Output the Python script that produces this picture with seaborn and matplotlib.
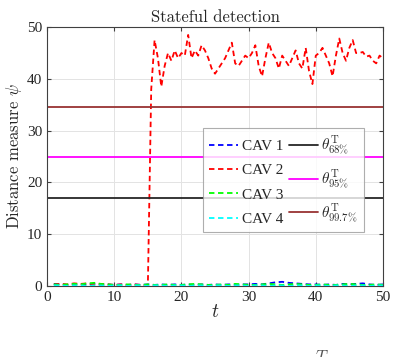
import numpy as np
import pandas as pd
import seaborn as sns
import matplotlib.pyplot as plt

# time grid for the small CAVs (step 1) and for CAV 2 after the attack (step 0.5)
t_base = list(range(1, 51))
cav1 = [0.4, 0.3, 0.2, 0.3, 0.2, 0.3, 0.4, 0.2, 0.3, 0.2,
        0.3, 0.2, 0.3, 0.2, 0.3, 0.2, 0.3, 0.2, 0.3, 0.2,
        0.3, 0.2, 0.3, 0.2, 0.3, 0.2, 0.3, 0.2, 0.3, 0.3,
        0.4, 0.3, 0.5, 0.7, 0.8, 0.6, 0.5, 0.4, 0.3, 0.3,
        0.2, 0.3, 0.2, 0.4, 0.3, 0.4, 0.5, 0.3, 0.2, 0.3]
cav3 = [0.3, 0.2, 0.3, 0.4, 0.3, 0.5, 0.6, 0.4, 0.3, 0.2,
        0.2, 0.3, 0.2, 0.2, 0.3, 0.2, 0.2, 0.3, 0.2, 0.2,
        0.3, 0.4, 0.3, 0.2, 0.2, 0.3, 0.2, 0.4, 0.3, 0.2,
        0.2, 0.3, 0.4, 0.3, 0.2, 0.3, 0.4, 0.3, 0.2, 0.2,
        0.3, 0.2, 0.2, 0.3, 0.4, 0.3, 0.2, 0.2, 0.3, 0.2]
cav4 = [0.1, 0.1, 0.0, 0.1, 0.1, 0.0, 0.1, 0.1, 0.0, 0.1,
        0.1, 0.0, 0.1, 0.1, 0.0, 0.1, 0.1, 0.0, 0.1, 0.1,
        0.0, 0.1, 0.1, 0.0, 0.1, 0.1, 0.0, 0.1, 0.1, 0.0,
        0.1, 0.1, 0.0, 0.1, 0.1, 0.0, 0.1, 0.1, 0.0, 0.1,
        0.1, 0.0, 0.1, 0.1, 0.0, 0.1, 0.1, 0.0, 0.1, 0.1]
t_cav2 = [1, 2, 3, 4, 5, 6, 7, 8, 9, 10, 11, 12, 13, 14, 15,
          15.5, 16, 16.5, 17, 17.5, 18, 18.5, 19, 19.5, 20,
          20.5, 21, 21.5, 22, 22.5, 23, 23.5, 24, 24.5, 25,
          25.5, 26, 26.5, 27, 27.5, 28, 28.5, 29, 29.5, 30,
          30.5, 31, 31.5, 32, 32.5, 33, 33.5, 34, 34.5, 35,
          35.5, 36, 36.5, 37, 37.5, 38, 38.5, 39, 39.5, 40,
          40.5, 41, 41.5, 42, 42.5, 43, 43.5, 44, 44.5, 45,
          45.5, 46, 46.5, 47, 47.5, 48, 48.5, 49, 49.5, 50]
cav2 = [0.3, 0.4, 0.3, 0.5, 0.4, 0.5, 0.3, 0.4, 0.3, 0.2, 0.3, 0.2, 0.3, 0.2, 0.1,
        38.0, 47.5, 44.0, 38.5, 42.5, 45.0, 43.5, 45.5, 44.0, 45.0,
        44.5, 48.5, 44.0, 45.5, 44.5, 46.5, 45.5, 44.0, 42.0, 41.0,
        42.0, 43.0, 44.0, 45.5, 47.0, 43.0, 42.5, 43.5, 44.5, 44.0,
        45.0, 46.5, 42.5, 40.5, 44.0, 47.0, 45.0, 44.0, 42.0, 44.5,
        43.5, 42.5, 44.0, 45.5, 43.0, 42.0, 46.0, 41.5, 39.0, 44.5,
        45.0, 46.0, 44.5, 43.0, 40.5, 44.5, 47.8, 45.0, 43.5, 46.0,
        47.5, 45.0, 45.0, 45.2, 44.3, 44.5, 43.5, 43.0, 44.5, 44.0]

cav_labels = ['CAV 1', 'CAV 2', 'CAV 3', 'CAV 4']
cav_colors = ['#0000ff', '#ff0000', '#00ff00', '#00ffff']
thr_values = [17.0, 25.0, 34.5]
thr_labels = [r'$\theta^{\mathrm{T}}_{68\%}$', r'$\theta^{\mathrm{T}}_{95\%}$',
              r'$\theta^{\mathrm{T}}_{99.7\%}$']
thr_colors = ['#262626', '#ff00ff', '#993333']

sns.set_style('ticks')
plt.rcParams['font.family'] = ['Liberation Serif', 'DejaVu Serif']
plt.rcParams['mathtext.fontset'] = 'cm'

fig = plt.figure(figsize=(3.96, 3.57), dpi=100)
ax = fig.add_axes([0.119, 0.199, 0.848, 0.725])

series = [(t_base, cav1), (t_cav2, cav2), (t_base, cav3), (t_base, cav4)]
for (tt, vv), lab, col in zip(series, cav_labels, cav_colors):
    df = pd.DataFrame({'t': tt, 'psi': vv})
    sns.lineplot(data=df, x='t', y='psi', ax=ax, color=col, lw=1.3,
                 linestyle=(0, (3, 2)), label=lab)

for v, lab, col in zip(thr_values, thr_labels, thr_colors):
    ax.axhline(v, color=col, lw=1.3, label=lab)

ax.set_xlim(0, 50)
ax.set_ylim(0, 50)
ax.set_xticks(np.arange(0, 51, 10))
ax.set_yticks(np.arange(0, 51, 10))
ax.grid(True, color='#e3e3e3', lw=0.7)
ax.set_axisbelow(True)
ax.tick_params(direction='in', labelsize=11, length=3, top=True, right=True,
               color='#404040')
for s in ax.spines.values():
    s.set_color('#404040')
    s.set_linewidth(0.8)

ax.set_title('Stateful detection', fontsize=12, family='cmr10', pad=4)
ax.set_xlabel(r'$t$', fontsize=14, labelpad=0)
ax.set_ylabel(r'Distance measure $\psi$', fontsize=12, family='cmr10', labelpad=2)

leg = ax.legend(ncol=2, loc='upper left', bbox_to_anchor=(0.464, 0.612),
                borderaxespad=0, fontsize=11, frameon=True, fancybox=False,
                edgecolor='#9a9a9a', handlelength=1.9, handletextpad=0.25,
                columnspacing=0.35, labelspacing=0.7, borderpad=0.4)
leg.get_frame().set_linewidth(0.8)

fig.text(0.795, 0.02, r'$T$', fontsize=12, va='top', color='#555555')

fig.savefig('out.png', dpi=100)
